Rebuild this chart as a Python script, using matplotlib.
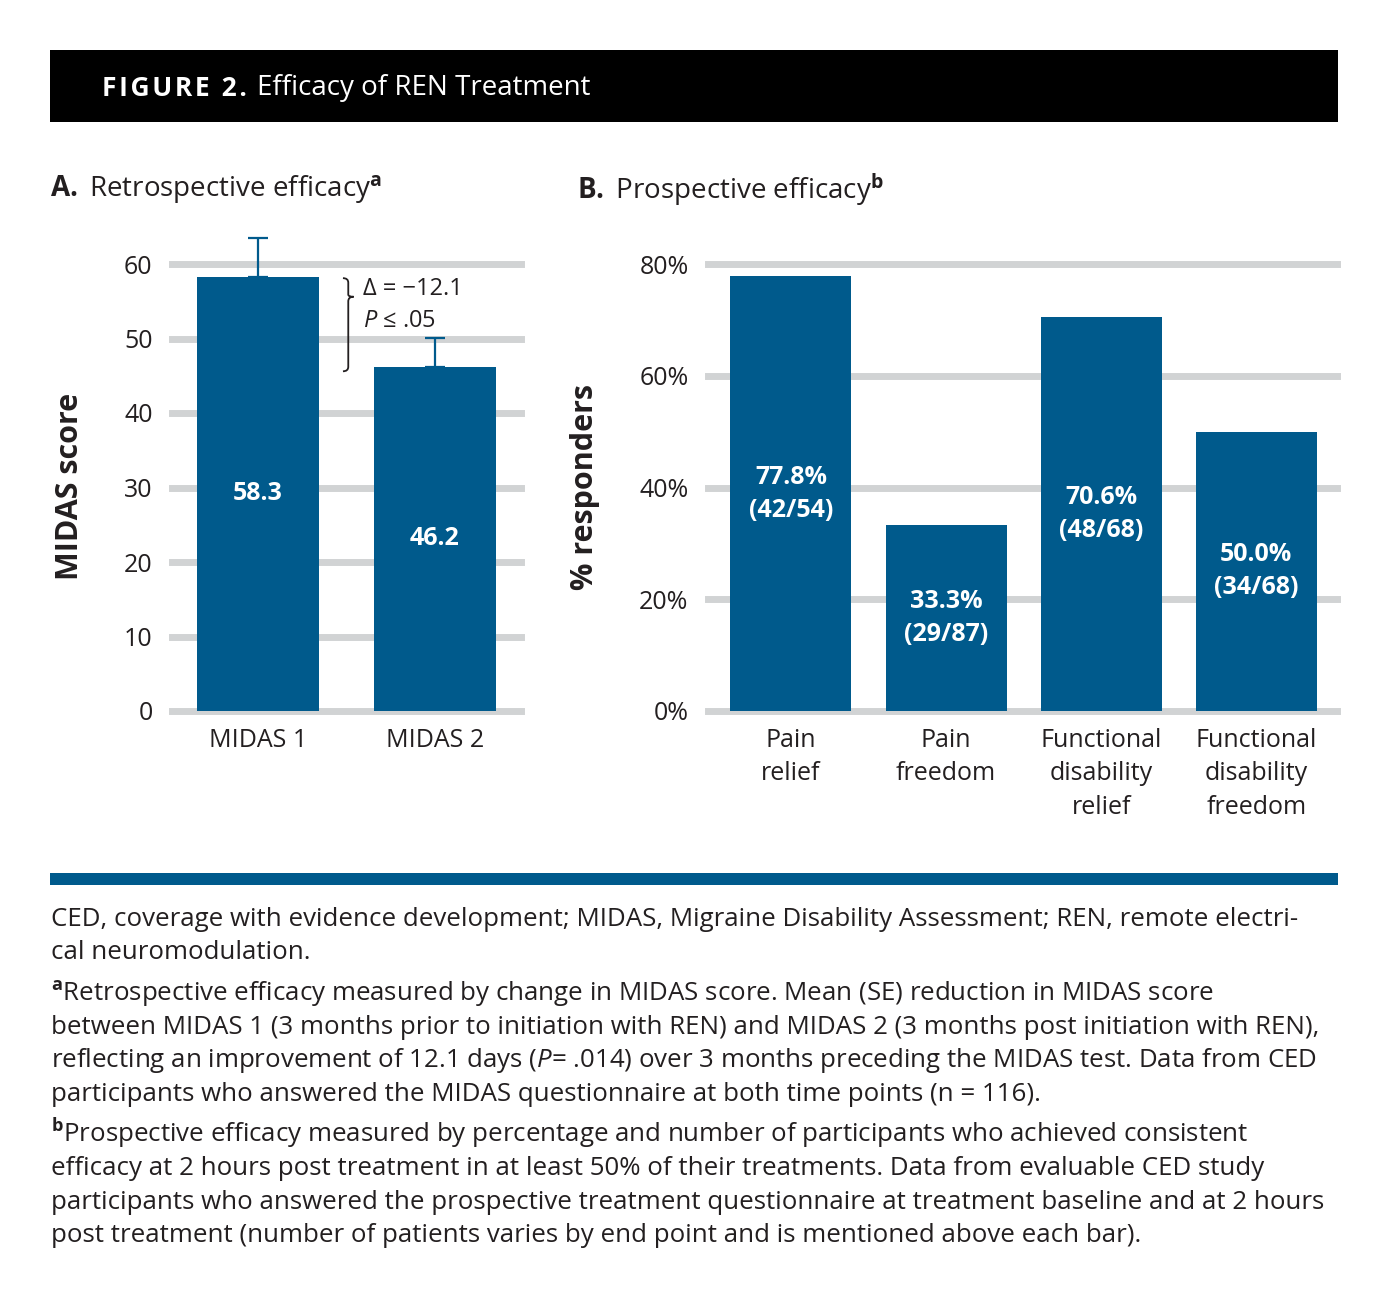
import matplotlib
matplotlib.use("Agg")
from matplotlib import pyplot as plt
from matplotlib.patches import Rectangle, PathPatch
from matplotlib.path import Path

# panel A data
midas_labels = ['MIDAS 1', 'MIDAS 2']
midas_scores = [58.3, 46.2]
midas_se = [5.2, 3.9]

# panel B data
resp_labels = ['Pain\nrelief', 'Pain\nfreedom', 'Functional\ndisability\nrelief',
               'Functional\ndisability\nfreedom']
resp_pct = [77.8, 33.3, 70.6, 50.0]
resp_counts = ['(42/54)', '(29/87)', '(48/68)', '(34/68)']

foot_lines = [
    "CED, coverage with evidence development; MIDAS, Migraine Disability Assessment; REN, remote electri-",
    "cal neuromodulation.",
    r"$^{\mathbf{a}}$Retrospective efficacy measured by change in MIDAS score. Mean (SE) reduction in MIDAS score",
    "between MIDAS 1 (3 months prior to initiation with REN) and MIDAS 2 (3 months post initiation with REN),",
    r"reflecting an improvement of 12.1 days ($P$= .014) over 3 months preceding the MIDAS test. Data from CED",
    "participants who answered the MIDAS questionnaire at both time points (n = 116).",
    r"$^{\mathbf{b}}$Prospective efficacy measured by percentage and number of participants who achieved consistent",
    "efficacy at 2 hours post treatment in at least 50% of their treatments. Data from evaluable CED study",
    "participants who answered the prospective treatment questionnaire at treatment baseline and at 2 hours",
    "post treatment (number of patients varies by end point and is mentioned above each bar).",
]
foot_base = [926, 959, 1001, 1034, 1067, 1101, 1142, 1175, 1209, 1242]

plt.rcParams['font.family'] = ['Open Sans', 'DejaVu Sans']
plt.rcParams['mathtext.fontset'] = 'custom'
plt.rcParams['mathtext.rm'] = 'Open Sans'
plt.rcParams['mathtext.it'] = 'Open Sans:italic'
plt.rcParams['mathtext.bf'] = 'Open Sans:bold'

W, H = 1388, 1309
blue = '#005a8c'
grey = '#d1d3d4'
ink = '#231f20'

fig = plt.figure(figsize=(W / 100, H / 100), dpi=100)


def fx(x):
    return x / W


def fy(y):
    return 1 - y / H


# header bar
fig.patches.append(Rectangle((fx(50), fy(122)), 1288 / W, 72 / H, transform=fig.transFigure,
                             facecolor='black', edgecolor='none'))
fig.text(fx(102), fy(88), "\u200a".join("FIGURE 2."), color='white', fontsize=19,
         fontweight='bold', va='center')
fig.text(fx(257), fy(88), "Efficacy of REN Treatment", color='white', fontsize=20, va='center')

fig.text(fx(50), fy(190), r"$\mathbf{A.}$ Retrospective efficacy$^{\mathbf{a}}$", fontsize=20,
         color=ink, va='center')
fig.text(fx(577), fy(190), r"$\mathbf{B.}$ Prospective efficacy$^{\mathbf{b}}$", fontsize=20,
         color=ink, va='center')


def style_axis(ax, ticks, ticklabels):
    ax.set_yticks(ticks)
    ax.set_yticklabels(ticklabels)
    ax.yaxis.grid(True, color=grey, linewidth=5)
    ax.set_axisbelow(True)
    for line in ax.get_ygridlines():
        line.set_clip_on(False)
    for s in ax.spines.values():
        s.set_visible(False)
    ax.tick_params(axis='both', length=0, labelsize=18, labelcolor=ink)
    ax.tick_params(axis='y', pad=14)
    ax.tick_params(axis='x', pad=12)


# panel A
axA = fig.add_axes([fx(172), fy(711), 349 / W, 481 / H])
xa = range(len(midas_scores))
axA.bar(xa, midas_scores, width=0.684, color=blue, zorder=2)
axA.errorbar(xa, midas_scores, yerr=[[0, 0], midas_se], fmt='none', ecolor=blue,
             elinewidth=1.6, capsize=7, capthick=1.6, zorder=3)
axA.set_xlim(-0.486, 1.486)
axA.set_ylim(0, 481 / 7.45)
style_axis(axA, range(0, 61, 10), [str(v) for v in range(0, 61, 10)])
axA.set_xticks(list(xa))
axA.set_xticklabels(midas_labels)
axA.set_ylabel('MIDAS score', fontsize=22, fontweight='bold', color=ink, labelpad=28)
axA.yaxis.label.set_y(0.466)
for i, v in enumerate(midas_scores):
    axA.text(i, v / 2, f"{v:.1f}", color='white', fontsize=18, fontweight='bold',
             ha='center', va='center')

# curly brace between the two bars
bx = 0.48
top, bot, tip = midas_scores[0] - 0.2, midas_scores[1] - 0.6, 55.6
d = 0.03
verts = [(bx, top), (bx + d, top), (bx + d, top - 0.6),
         (bx + d, tip + 0.3), (bx + d, tip), (bx + 2 * d, tip),
         (bx + d, tip), (bx + d, tip - 0.6),
         (bx + d, bot + 0.6), (bx + d, bot), (bx, bot)]
codes = [Path.MOVETO, Path.CURVE3, Path.CURVE3,
         Path.LINETO, Path.CURVE3, Path.CURVE3,
         Path.CURVE3, Path.CURVE3,
         Path.LINETO, Path.CURVE3, Path.CURVE3]
axA.add_patch(PathPatch(Path(verts, codes), facecolor='none', edgecolor=ink, linewidth=1.3,
                        zorder=4))
axA.text(0.592, 56.6, "Δ = −12.1", fontsize=17, color=ink, va='center')
axA.text(0.592, 52.4, r"$P$ ≤ .05", fontsize=17, color=ink, va='center')

# panel B
axB = fig.add_axes([fx(708), fy(711), 629 / W, 481 / H])
xb = range(len(resp_pct))
axB.bar(xb, resp_pct, width=0.78, color=blue, zorder=2)
axB.set_xlim(-0.535, 3.52)
axB.set_ylim(0, 481 / 5.5875)
style_axis(axB, range(0, 81, 20), [f"{v}%" for v in range(0, 81, 20)])
axB.set_xticks(list(xb))
axB.set_xticklabels(resp_labels, linespacing=1.45)
axB.set_ylabel('% responders', fontsize=22, fontweight='bold', color=ink, labelpad=28)
axB.yaxis.label.set_y(0.466)
for i, v in enumerate(resp_pct):
    axB.text(i, v / 2, f"{v:.1f}%\n{resp_counts[i]}", color='white', fontsize=18,
             fontweight='bold', ha='center', va='center', linespacing=1.42)

# footer rule and notes
fig.patches.append(Rectangle((fx(50), fy(885)), 1288 / W, 12 / H, transform=fig.transFigure,
                             facecolor=blue, edgecolor='none'))
for line, y in zip(foot_lines, foot_base):
    fig.text(fx(51), fy(y), line, fontsize=18.6, color=ink, va='baseline')

fig.savefig('out.png', dpi=100, facecolor='white')
